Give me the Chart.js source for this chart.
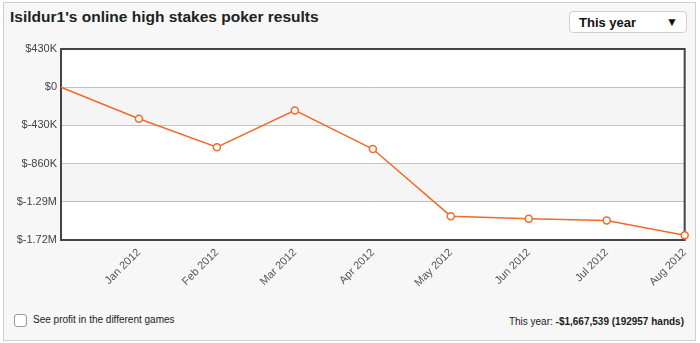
<!DOCTYPE html>
<html>
<head>
<meta charset="utf-8">
<script src="https://cdn.jsdelivr.net/npm/chart.js@4"></script>
<style>
  body { margin: 0; background: #fff; font-family: "Liberation Sans", Arial, sans-serif; }
  #page { position: relative; width: 700px; height: 343px; overflow: hidden; }
  #box { position: absolute; left: 3px; top: 2px; width: 691px; height: 337px; border: 1px solid #cfcfcf; background: #f7f7f7; }
  #titulo { position: absolute; left: 10px; top: 8px; font-size: 15.5px; font-weight: bold; color: #222; }
  #seletor { position: absolute; left: 569px; top: 11px; width: 116px; height: 20px; background: #fff; border: 1px solid #cfcfcf; border-radius: 4px; font-size: 13px; font-weight: bold; color: #111; }
  #seletor span { position: absolute; left: 9px; top: 3px; }
  #seletor i { position: absolute; right: 8px; top: 3px; font-style: normal; font-size: 12px; }
  #grafico { position: absolute; left: 0; top: 0; pointer-events: none; }
  #rodape-esq { position: absolute; left: 14px; top: 314px; font-size: 10px; color: #222; }
  #rodape-esq b { display: inline-block; width: 11px; height: 11px; border: 1px solid #999; border-radius: 3px; background: #fff; vertical-align: middle; margin-right: 6px; }
  #rodape-dir { position: absolute; right: 16px; top: 316px; font-size: 10px; color: #222; }
</style>
</head>
<body>
<div id="page">
  <div id="box"></div>
  <div id="titulo">Isildur1's online high stakes poker results</div>
  <div id="seletor"><span>This year</span><i>&#9660;</i></div>
  <div id="rodape-esq"><b></b>See profit in the different games</div>
  <div id="rodape-dir">This year: <strong>-$1,667,539 (192957 hands)</strong></div>
  <canvas id="grafico" width="700" height="343"></canvas>
</div>
<script>
// Dados
const meses = ['', 'Jan 2012', 'Feb 2012', 'Mar 2012', 'Apr 2012', 'May 2012', 'Jun 2012', 'Jul 2012', 'Aug 2012'];
const lucro = [0, -355000, -676000, -261000, -696000, -1452000, -1482000, -1501000, -1667539];
const ticksY = [430000, 0, -430000, -860000, -1290000, -1720000];
const rotulosY = ['$430K', '$0', '$-430K', '$-860K', '$-1.29M', '$-1.72M'];

// Faixas alternadas e moldura da área do gráfico
const fundoPlot = {
  id: 'fundoPlot',
  beforeDatasetsDraw(chart) {
    const { ctx, chartArea: a, scales: { y } } = chart;
    ctx.save();
    for (let i = 1; i < ticksY.length - 1; i += 2) {
      const y1 = y.getPixelForValue(ticksY[i]);
      const y2 = y.getPixelForValue(ticksY[i + 1]);
      ctx.fillStyle = 'rgba(0,0,0,0.04)';
      ctx.fillRect(a.left, y1, a.right - a.left, y2 - y1);
    }
    ctx.strokeStyle = '#444';
    ctx.lineWidth = 2;
    ctx.strokeRect(a.left, a.top, a.right - a.left, a.bottom - a.top);
    ctx.restore();
  },
  beforeDraw(chart) {
    const { ctx, chartArea: a } = chart;
    ctx.save();
    ctx.fillStyle = '#fff';
    ctx.fillRect(a.left, a.top, a.right - a.left, a.bottom - a.top);
    ctx.restore();
  }
};

new Chart(document.getElementById('grafico'), {
  type: 'line',
  data: {
    labels: meses,
    datasets: [{
      data: lucro,
      borderColor: '#f26a2a',
      borderWidth: 1.5,
      pointRadius: [0, 3.5, 3.5, 3.5, 3.5, 3.5, 3.5, 3.5, 3.5],
      pointBackgroundColor: '#fff',
      pointBorderColor: '#f26a2a',
      pointBorderWidth: 1.5,
      tension: 0,
      clip: false
    }]
  },
  options: {
    responsive: false,
    animation: false,
    layout: { padding: { top: 49, right: 14, left: 0, bottom: 0 } },
    plugins: { legend: { display: false }, tooltip: { enabled: false } },
    scales: {
      x: {
        offset: false,
        grid: { display: false, drawTicks: false },
        border: { display: false },
        ticks: {
          minRotation: 45,
          maxRotation: 45,
          padding: 6,
          color: '#555',
          font: { family: 'Liberation Sans', size: 11 }
        },
        afterFit(s) { s.height = 103; }
      },
      y: {
        min: -1720000,
        max: 430000,
        afterBuildTicks(s) { s.ticks = ticksY.map(v => ({ value: v })); },
        grid: { color: '#c8c8c8', drawTicks: false },
        border: { display: false },
        ticks: {
          padding: 4,
          color: '#444',
          font: { family: 'Liberation Sans', size: 11 },
          callback: (v) => rotulosY[ticksY.indexOf(v)]
        },
        afterFit(s) { s.width = 61; }
      }
    }
  },
  plugins: [fundoPlot]
});
</script>
</body>
</html>
